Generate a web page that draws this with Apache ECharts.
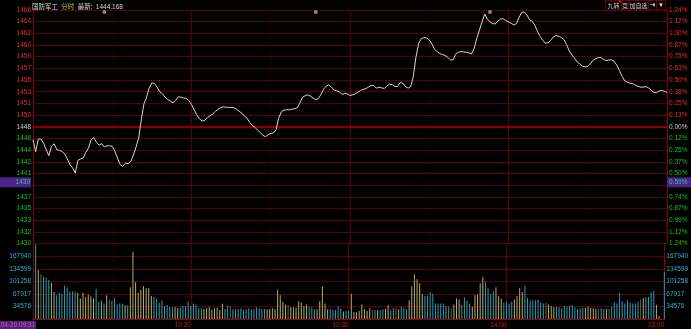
<!DOCTYPE html>
<html><head><meta charset="utf-8">
<script src="https://cdn.jsdelivr.net/npm/echarts@6/dist/echarts.min.js"></script>
<style>html,body{margin:0;padding:0;background:#000;overflow:hidden}#c{width:691px;height:329px}</style>
</head><body><div id="c"></div>
<script>
const prevClose = 1448;
const price = [1446.01,1444.17,1446.11,1446.11,1445.49,1444.47,1443.55,1444.98,1445.39,1444.47,
1444.37,1444.22,1443.81,1443.04,1442.17,1441.66,1440.89,1442.83,1443.04,1443.19,
1444.06,1444.73,1446.01,1446.36,1445.60,1445.19,1445.39,1444.88,1445.08,1445.08,
1444.98,1444.22,1443.19,1442.17,1441.91,1442.42,1442.32,1442.63,1443.65,1444.88,
1446.26,1449.07,1451.53,1452.55,1453.98,1454.75,1454.65,1454.09,1453.37,1453.06,
1452.55,1452.19,1451.94,1451.68,1452.04,1452.60,1452.55,1452.45,1452.35,1452.04,
1451.43,1450.61,1449.84,1449.23,1448.87,1448.97,1449.38,1449.69,1449.94,1450.35,
1450.66,1450.92,1451.07,1451.02,1450.97,1450.97,1450.92,1450.71,1450.40,1450.10,
1449.64,1449.33,1448.67,1448.20,1447.90,1447.49,1447.13,1446.67,1446.47,1446.77,
1446.98,1447.03,1447.54,1449.33,1450.30,1450.56,1450.61,1450.61,1450.71,1450.76,
1450.92,1451.63,1452.55,1452.76,1452.91,1452.71,1452.40,1452.19,1452.30,1452.96,
1453.78,1454.24,1454.45,1454.09,1453.63,1453.52,1453.37,1452.96,1453.12,1453.06,
1452.81,
1452.91,1453.06,1453.32,1453.58,1453.78,1453.83,1454.14,1454.34,1454.34,1453.93,
1454.09,1453.98,1453.88,1454.29,1454.55,1454.50,1454.19,1454.19,1454.80,1454.70,
1454.19,1453.93,1454.19,1455.83,1458.79,1460.84,1461.55,1461.71,1461.66,1461.35,
1460.74,1459.92,1459.51,1459.25,1459.10,1458.95,1458.69,1458.28,1458.28,1459.15,
1459.46,1459.56,1459.51,1459.46,1459.36,1459.20,1460.07,1461.61,1462.88,1464.16,
1465.34,1464.57,1464.11,1463.86,1463.81,1464.27,1464.57,1464.62,1464.32,1464.11,
1463.91,1463.65,1463.86,1464.83,1465.60,1465.65,1465.19,1464.42,1464.21,1463.60,
1462.63,1461.86,1461.25,1460.89,1460.89,1461.30,1461.81,1462.02,1461.91,1461.71,
1461.40,1460.63,1459.66,1459.05,1458.54,1457.97,1457.67,1457.31,1457.21,1457.26,
1457.67,1458.23,1458.49,1458.64,1458.64,1458.33,1458.18,1458.28,1458.28,1458.08,
1457.46,1456.64,1455.77,1455.06,1454.85,1454.70,1454.65,1454.39,1454.24,1454.09,
1454.09,1454.19,1453.98,1453.68,1453.27,1453.22,1453.52,1453.58,1453.47,1453.27];
const volume = [null,201281,131900,120700,113700,112100,106000,97400,73200,64400,
71400,68800,90400,86100,74800,74800,74800,71400,55800,71400,
59300,66200,61900,55800,81800,47100,49700,42800,64500,53200,
49700,57500,40200,42800,41900,37600,37600,86100,180500,99100,
71400,79200,88700,83500,83500,62700,60100,55800,44500,50600,
35900,38500,33300,32400,34100,30700,32400,35900,35900,48900,
36700,42800,40200,29800,29800,28100,29800,32400,26300,29800,
31500,25500,41900,28100,36700,36700,27200,27200,28100,29800,
25500,28100,29800,27200,27200,32400,29800,28100,28100,27200,
27200,29800,28100,79200,64500,47100,40200,38500,32400,32400,
31500,48900,45400,35900,40200,34100,32400,27200,27200,48900,
87800,42800,27200,27200,25500,25500,34100,29800,21200,22900,
22900,68800,19400,19400,22900,40200,28100,22900,29800,25500,
25500,25500,25500,27200,28100,38500,25500,29800,31500,27200,
34100,31500,27200,51500,87800,120700,107800,96500,68800,62700,
64500,73100,68800,42800,42800,42800,42800,35900,34100,29800,
40200,55800,53200,38500,59300,49700,41100,34100,64500,67100,
96500,112900,99100,83500,68800,74800,86100,61900,55800,44500,
47100,42800,47100,53200,62700,83500,73100,90400,57500,50600,
51500,51500,52300,44500,42800,44500,40200,35900,32400,34100,
32400,29800,35900,34100,36700,38500,32400,27200,29800,31500,
31500,34100,31500,29800,28100,28100,29800,28100,28100,28100,
34100,45400,42800,71400,48900,42800,51500,44500,42800,42800,
47100,53200,57500,60100,60100,73100,77400,38500,9000,1235,
126800];
const priceTickLabels = ['1466','1464','1462','1460','1459','1457','1455','1453','1451','1450','1448','1446','1444','1442','1441','1439','1437','1435','1433','1432','1430'];
const pctTickLabels = ['1.24%','1.12%','1.00%','0.87%','0.75%','0.63%','0.50%','0.38%','0.25%','0.13%','0.00%','0.12%','0.25%','0.37%','0.50%','0.62%','0.74%','0.87%','0.99%','1.12%','1.24%'];
const volTickValues = [34576, 67917, 101258, 134599, 167940];
const volMin = 1235, volMax = 201281;
const timeTickLabels = ['10:30','11:30','14:00','15:00'];
const solidTimes = ['10:30','11:30','14:00'];
const dottedTimes = ['10:00','11:00','13:30','14:30'];
const eventTimes = ['09:57','11:17','13:53'];
const cursor = {date:'04-20', time:'09:31', price:1439.45};
const titleName = '国防军工', titleMode = '分时', titleLast = '最新', lastPrice = '1444.168';

function fmt(m){const h=Math.floor(m/60),mm=m%60;return (h<10?'0':'')+h+':'+(mm<10?'0':'')+mm;}
const times = [];
for (let m=9*60+30;m<=11*60+30;m++) times.push(fmt(m));
for (let m=13*60+1;m<=15*60;m++) times.push(fmt(m));

const pct = price.map(p => (p/prevClose-1)*100);
const STEP = 0.124, LIM = 1.24;
const UP='#b3ad6b', DOWN='#2b9db3', FLAT='#66643a';
const volData = volume.map((v,i)=>{
  let c = FLAT;
  if (i>0) { if (price[i]>price[i-1]) c=UP; else if (price[i]<price[i-1]) c=DOWN; }
  return {value:v, itemStyle:{color:c}};
});
const FONT = 'Liberation Sans, Arial, sans-serif';
function tickIdx(v){return Math.round((LIM - v)/STEP);}
function sideColor(v){ if (v>0.0001) return '#e8302c'; if (v<-0.0001) return '#19c519'; return '#c8c8c8'; }

const vLines = (arr, color, type) => ({
  silent:true, symbol:'none', label:{show:false},
  lineStyle:{color:color, width:1, type:type},
  data: arr.map(t=>({xAxis:t}))
});

const chart = echarts.init(document.getElementById('c'), null, {renderer:'canvas'});
const option = {
  backgroundColor:'#000',
  animation:false,
  grid:[
    {left:33, right:24, top:10, height:233.5},
    {left:33, right:24, top:244, height:77}
  ],
  xAxis:[
    {type:'category', gridIndex:0, data:times, boundaryGap:false,
     axisLine:{show:true, lineStyle:{color:'#a00000', width:1}}, axisTick:{show:false}, axisLabel:{show:false}, splitLine:{show:false}},
    {type:'category', gridIndex:1, data:times, boundaryGap:false,
     axisLine:{show:true, lineStyle:{color:'#a00000', width:1}}, axisTick:{show:false},
     axisLabel:{show:true, interval:(i,v)=>timeTickLabels.indexOf(v)>=0, formatter:v=>v, align:'right', margin:3,
       color:'#d01818', fontSize:6.5, fontFamily:FONT}, splitLine:{show:false}}
  ],
  yAxis:[
    {type:'value', gridIndex:0, position:'left', min:-LIM, max:LIM, interval:STEP,
     axisLine:{show:true, lineStyle:{color:'#800000'}}, axisTick:{show:false},
     axisLabel:{margin:2, fontSize:6.5, fontFamily:FONT, formatter:v=>priceTickLabels[tickIdx(v)], color:v=>sideColor(v)},
     splitLine:{show:true, lineStyle:{color:'#5c0000', width:1}}},
    {type:'value', gridIndex:0, position:'right', min:-LIM, max:LIM, interval:STEP,
     axisLine:{show:true, lineStyle:{color:'#8a0000'}}, axisTick:{show:false},
     axisLabel:{margin:2, fontSize:6.5, fontFamily:FONT, formatter:v=>pctTickLabels[tickIdx(v)], color:v=>sideColor(v)},
     splitLine:{show:false}},
    {type:'value', gridIndex:1, position:'left', min:volMin, max:volMax,
     axisLine:{show:true, lineStyle:{color:'#800000'}}, axisTick:{show:false, customValues:volTickValues},
     axisLabel:{margin:2, fontSize:6.5, fontFamily:FONT, color:'#2fb2d0', customValues:volTickValues, formatter:v=>String(Math.round(v))},
     splitLine:{show:true, lineStyle:{color:'#5c0000', width:1}}},
    {type:'value', gridIndex:1, position:'right', min:volMin, max:volMax,
     axisLine:{show:true, lineStyle:{color:'#8a0000'}}, axisTick:{show:false, customValues:volTickValues},
     axisLabel:{margin:2, fontSize:6.5, fontFamily:FONT, color:'#2fb2d0', customValues:volTickValues, formatter:v=>String(Math.round(v))},
     splitLine:{show:false}}
  ],
  series:[
    {type:'line', name:'dotted', xAxisIndex:0, yAxisIndex:0, data:[], markLine:vLines(dottedTimes,'#3c0000','dotted')},
    {type:'line', name:'solid', xAxisIndex:0, yAxisIndex:0, data:[], markLine:vLines(solidTimes,'#5c0000','solid')},
    {type:'line', name:'zero', xAxisIndex:0, yAxisIndex:0, data:[],
     markLine:{silent:true, symbol:'none', label:{show:false}, lineStyle:{color:'#8c0000', width:2, type:'solid'}, data:[{yAxis:0}]}},
    {type:'line', name:'price', xAxisIndex:0, yAxisIndex:0, data:pct, showSymbol:false, smooth:false,
     lineStyle:{color:'#d6d6d6', width:1}, z:5},
    {type:'scatter', name:'events', xAxisIndex:0, yAxisIndex:0, symbol:'circle', symbolSize:4, symbolOffset:[0,2],
     itemStyle:{color:'#a8a8a8'}, data:eventTimes.map(t=>[t, LIM]), z:6},
    {type:'line', name:'vdotted', xAxisIndex:1, yAxisIndex:2, data:[], markLine:vLines(dottedTimes,'#3c0000','dotted')},
    {type:'line', name:'vsolid', xAxisIndex:1, yAxisIndex:2, data:[], markLine:vLines(solidTimes,'#5c0000','solid')},
    {type:'bar', name:'volume', xAxisIndex:1, yAxisIndex:2, data:volData, barWidth:1, z:5}
  ]
};
chart.setOption(option);

const curPct = (cursor.price/prevClose-1)*100;
const yCur = chart.convertToPixel({yAxisIndex:0}, curPct);
const btnStroke = '#700000';
chart.setOption({graphic:[
  {type:'text', left:32, top:1, z:20, style:{
    text:'{a|'+titleName+'} {b|'+titleMode+'} {a|'+titleLast+':} {c|'+lastPrice+'}',
    rich:{a:{fill:'#d8d8d8', fontSize:6.5, fontFamily:'Noto Sans CJK SC'},
          b:{fill:'#c8c04a', fontSize:6.5, fontFamily:'Noto Sans CJK SC'},
          c:{fill:'#d8d8d8', fontSize:6.5, fontFamily:FONT}}}},
  {type:'rect', z:20, shape:{x:0, y:yCur-5, width:31, height:10}, style:{fill:'#4e2090'}},
  {type:'text', z:21, style:{x:30, y:yCur, text:cursor.price.toFixed(0), fill:'#2ed07a', fontSize:6.5, fontFamily:FONT, align:'right', verticalAlign:'middle'}},
  {type:'rect', z:20, shape:{x:667, y:yCur-5, width:24, height:10}, style:{fill:'#4e2090'}},
  {type:'text', z:21, style:{x:669, y:yCur, text:Math.abs(curPct).toFixed(2)+'%', fill:'#2ed07a', fontSize:6.5, fontFamily:FONT, align:'left', verticalAlign:'middle'}},
  {type:'rect', z:20, shape:{x:0, y:321, width:36, height:8}, style:{fill:'#4e2090'}},
  {type:'text', z:21, style:{x:18, y:325, text:cursor.date+' '+cursor.time, fill:'#ff4a6a', fontSize:6.5, fontFamily:FONT, align:'center', verticalAlign:'middle'}},
  {type:'group', z:20, children:[
    {type:'rect', shape:{x:605.5, y:0.5, width:16, height:9.5}, style:{fill:'#000', stroke:btnStroke}},
    {type:'text', style:{x:613.5, y:5.5, text:'九转', fill:'#d8d8d8', fontSize:6, fontFamily:'Noto Sans CJK SC', align:'center', verticalAlign:'middle'}},
    {type:'polygon', shape:{points:[[618,0.5],[621.5,0.5],[621.5,4]]}, style:{fill:'#e00000'}},
    {type:'rect', shape:{x:621.5, y:0.5, width:7, height:9.5}, style:{fill:'#000', stroke:btnStroke}},
    {type:'text', style:{x:625, y:5.5, text:'竞', fill:'#d8d8d8', fontSize:6, fontFamily:'Noto Sans CJK SC', align:'center', verticalAlign:'middle'}},
    {type:'rect', shape:{x:628.5, y:0.5, width:20, height:9.5}, style:{fill:'#000', stroke:btnStroke}},
    {type:'text', style:{x:638.5, y:5.5, text:'加自选', fill:'#d8d8d8', fontSize:6, fontFamily:'Noto Sans CJK SC', align:'center', verticalAlign:'middle'}},
    {type:'rect', shape:{x:648.5, y:0.5, width:8, height:9.5}, style:{fill:'#000', stroke:btnStroke}},
    {type:'text', style:{x:652.5, y:5.5, text:'⇥', fill:'#e0e0e0', fontSize:7, fontFamily:'DejaVu Sans', align:'center', verticalAlign:'middle'}},
    {type:'rect', shape:{x:656.5, y:0.5, width:9, height:9.5}, style:{fill:'#000', stroke:btnStroke}},
    {type:'text', style:{x:661, y:5, text:'▾', fill:'#e0e0e0', fontSize:7, fontFamily:'DejaVu Sans', align:'center', verticalAlign:'middle'}}
  ]}
]});
</script></body></html>
